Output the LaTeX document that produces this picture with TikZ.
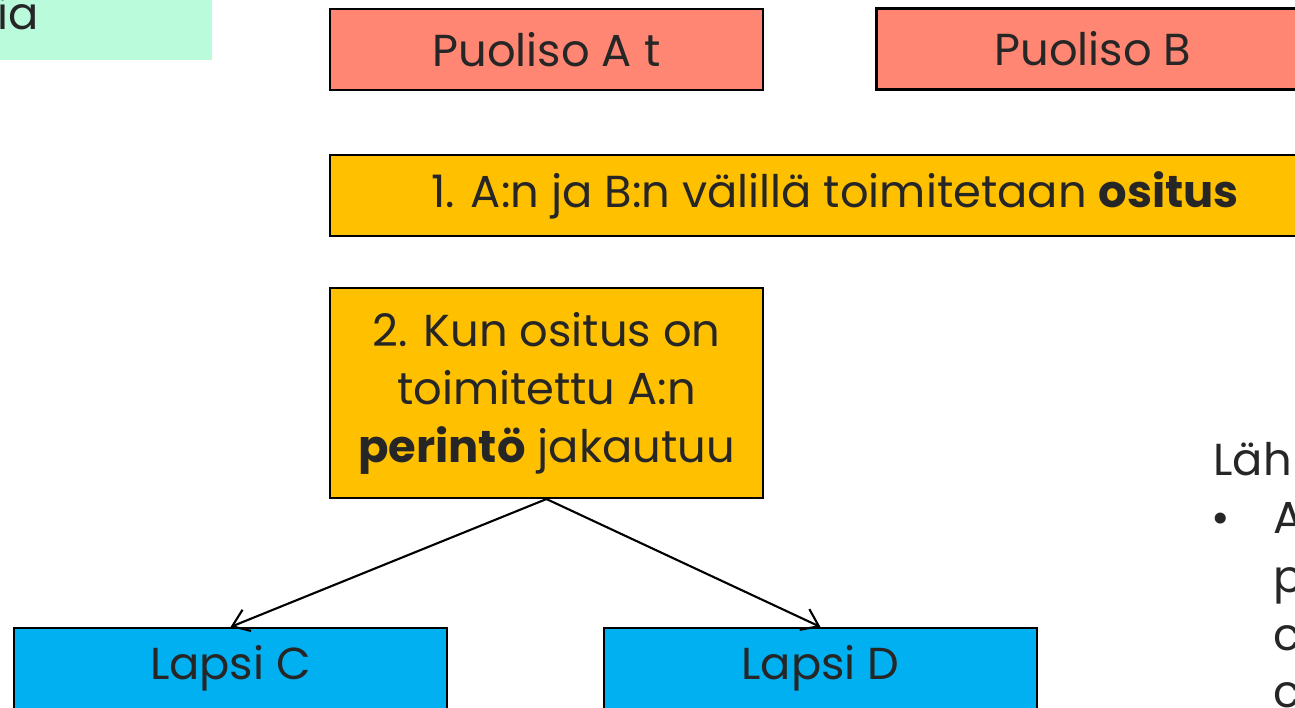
\documentclass[tikz,border=0pt]{standalone}
\usepackage{fontspec}
\setmainfont{Poppins}
\usetikzlibrary{arrows.meta}
\definecolor{lohi}{RGB}{255,134,114}
\definecolor{kulta}{RGB}{255,192,0}
\definecolor{taivas}{RGB}{0,176,240}
\definecolor{minttu}{RGB}{185,251,219}
\definecolor{teksti}{RGB}{38,38,38}
\tikzset{
	laatikko/.style={draw=black, line width=1.2pt, inner sep=0pt, text=teksti, minimum width=8.66cm, minimum height=1.62cm},
	puoliso/.style={laatikko, fill=lohi},
	vaihe/.style={laatikko, fill=kulta, align=center},
	lapsi/.style={laatikko, fill=taivas},
	nuoli/.style={line width=1.2pt, -{Straight Barb[length=9pt,width=13pt]}}
}

\begin{document}
\begin{tikzpicture}[x=0.02cm, y=-0.02cm, font=\fontsize{25.5}{33}\selectfont]
			\useasboundingbox (0,0) rectangle (1295,707);
			\clip (0,0) rectangle (1295,707);
			\fill [minttu] (-50,-20) rectangle (212,60);
			\node [anchor=base east, text=teksti, inner sep=0pt] (otsikko) at (39,29) {ia};
			\node [puoliso] (puolisoA) at (546.5,49.5) {Puoliso A t};
			\node [puoliso] (puolisoB) at (1093,49) {Puoliso B};
			\node [vaihe, minimum width=20.2cm] (ositus) at (835,195.5) {1. A:n ja B:n välillä toimitetaan \textbf{ositus}};
			\node [vaihe, minimum height=4.2cm] (perinto) at (546.5,393) {2. Kun ositus on\\toimitettu A:n\\\textbf{perintö} jakautuu};
			\node [lapsi] (lapsiC) at (230.5,668.5) {Lapsi C};
			\node [lapsi] (lapsiD) at (820.5,668.5) {Lapsi D};
			\draw [nuoli] (perinto.south) -- (lapsiC.north);
			\draw [nuoli] (perinto.south) -- (lapsiD.north);
			\node [anchor=base west, text=teksti, inner sep=0pt] (lahde) at (1213,475) {Läh};
			\node [anchor=base, text=teksti, inner sep=0pt] (luetelma) at (1221,533) {\textbullet};
			\node [anchor=base west, text=teksti, inner sep=0pt] (rivi1) at (1273,533) {A};
			\node [anchor=base west, text=teksti, inner sep=0pt] (rivi2) at (1273,592) {p};
			\node [anchor=base west, text=teksti, inner sep=0pt] (rivi3) at (1273,650) {c};
			\node [anchor=base west, text=teksti, inner sep=0pt] (rivi4) at (1273,707) {c};
		\end{tikzpicture}
\end{document}
